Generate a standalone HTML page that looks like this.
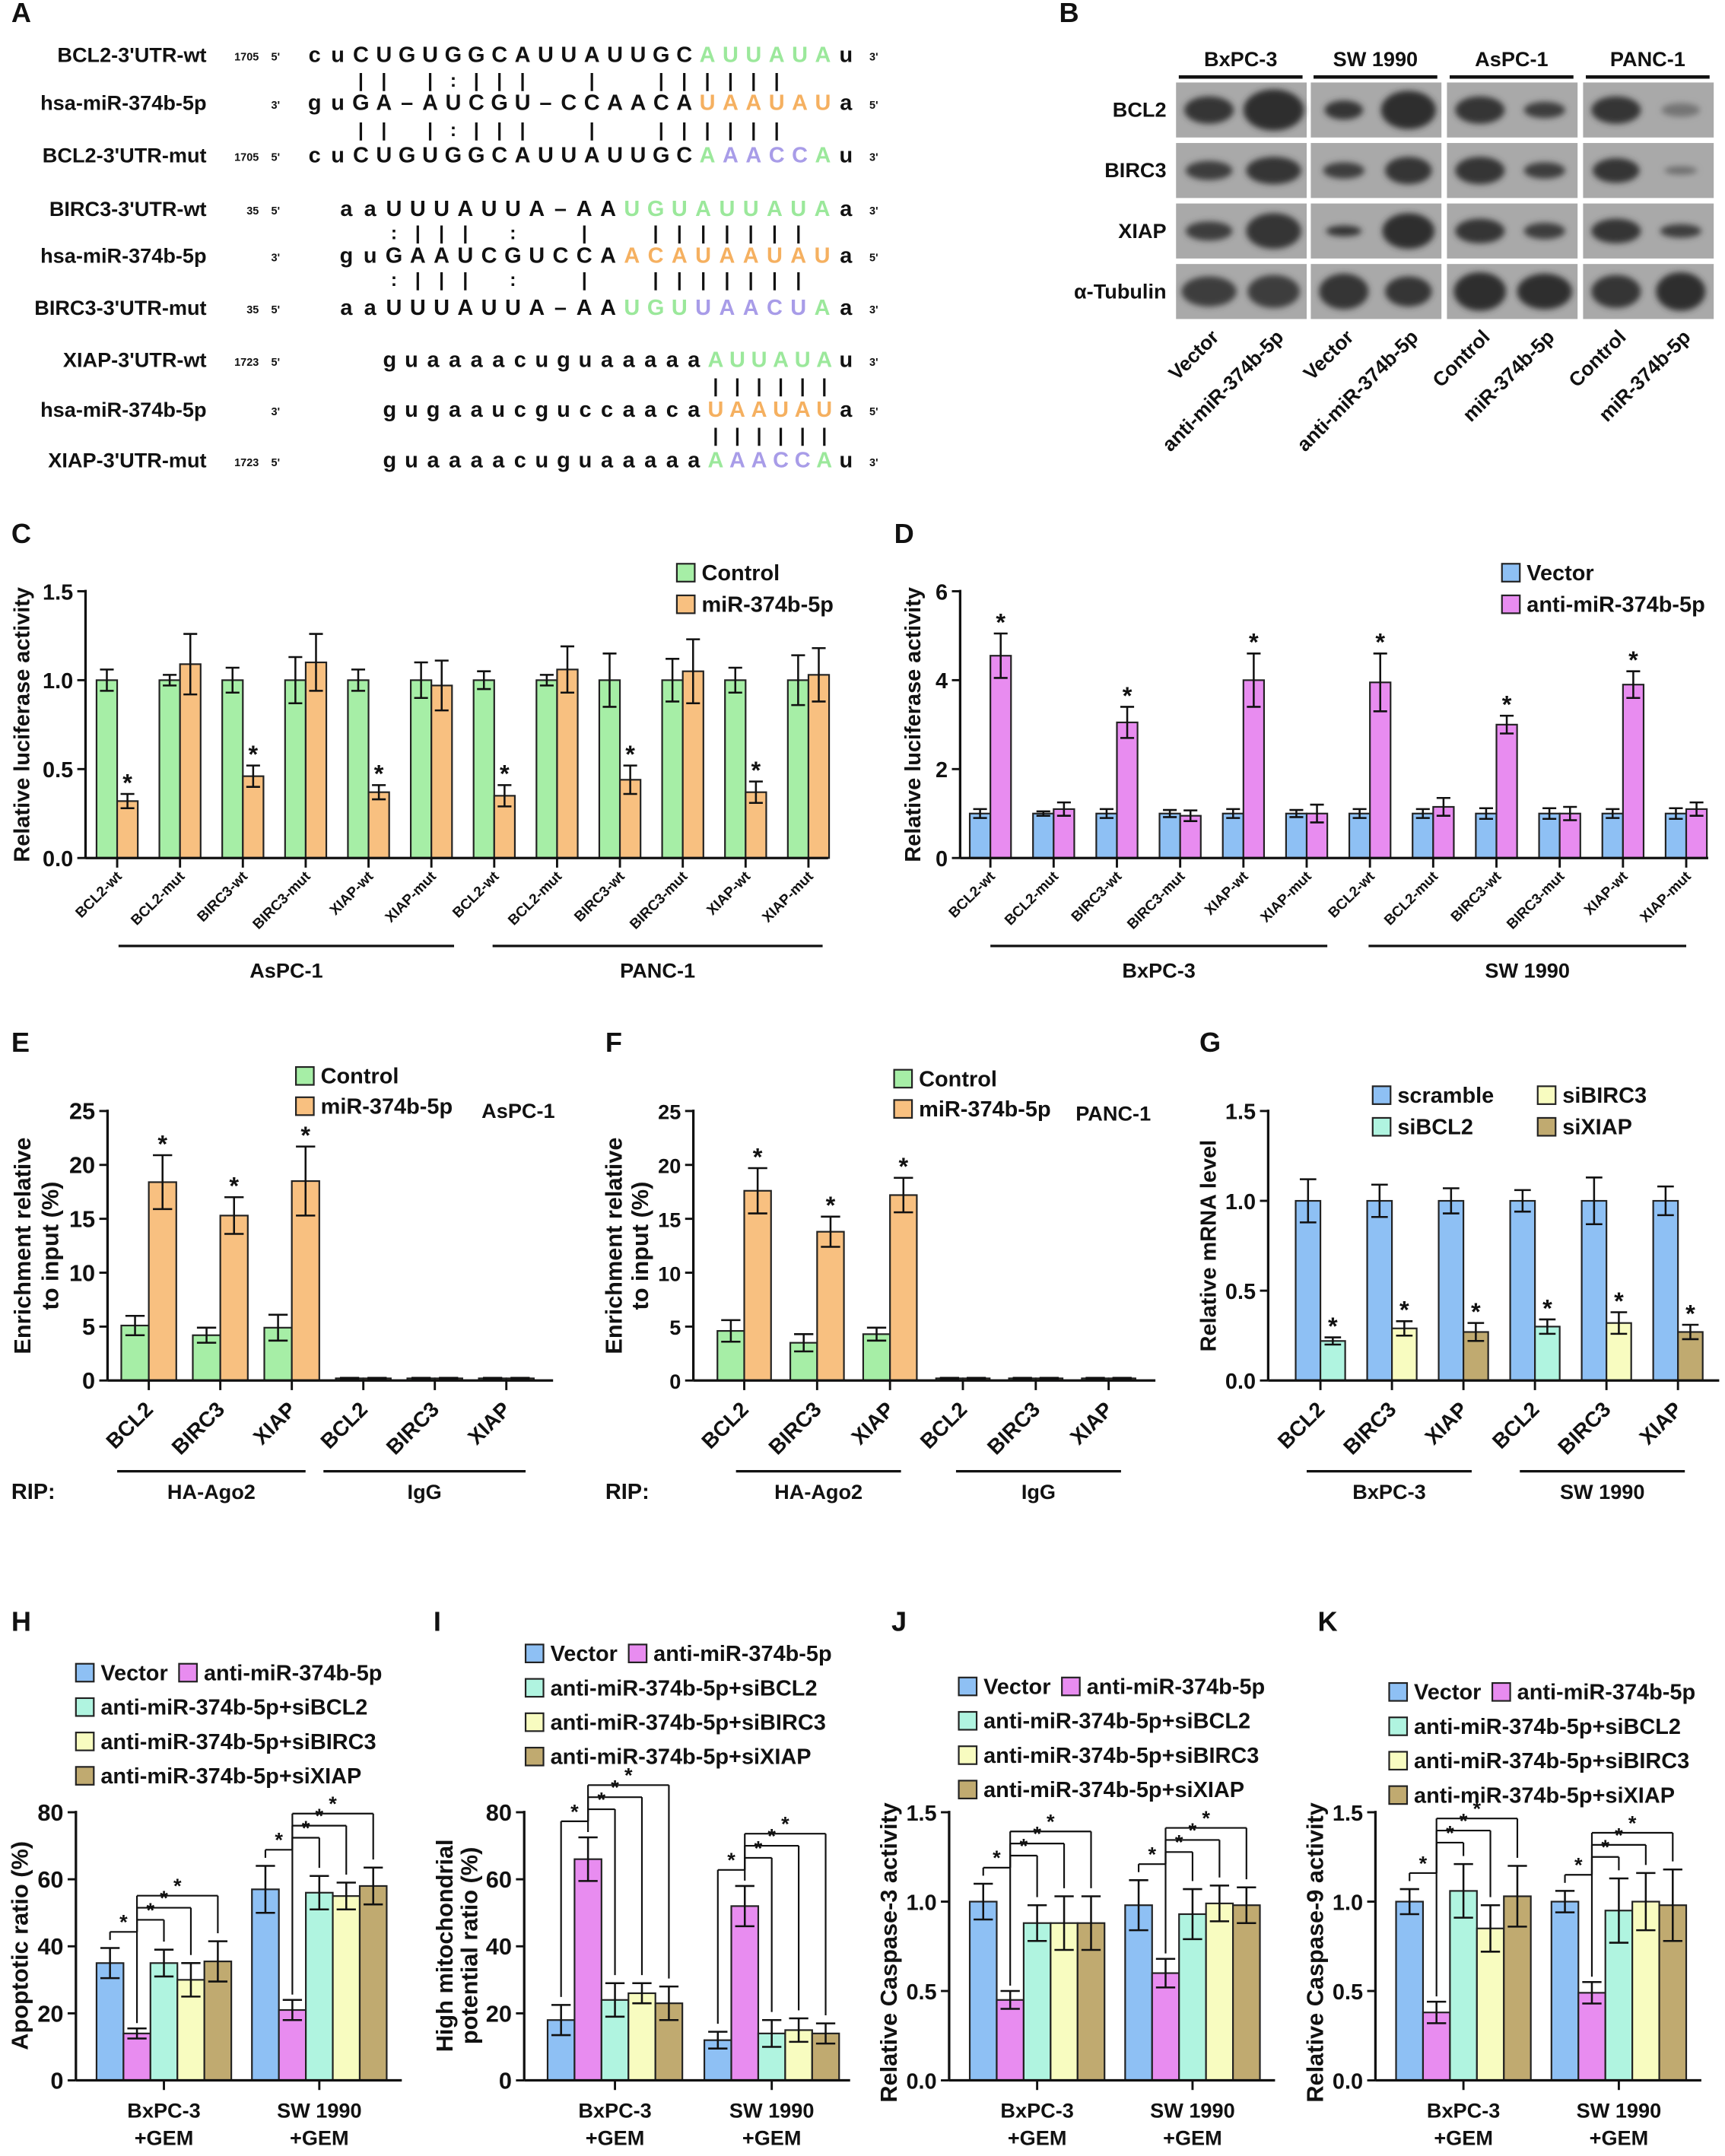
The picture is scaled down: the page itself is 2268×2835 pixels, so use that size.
<!DOCTYPE html>
<html><head><meta charset="utf-8"><style>
html,body{margin:0;padding:0;background:#fff}
svg{display:block}
text{font-family:"Liberation Sans",Arial,sans-serif;font-weight:bold}
</style></head><body>
<svg id="fig" xmlns="http://www.w3.org/2000/svg" width="2268" height="2835" viewBox="0 0 1254 1568">
<defs><filter id="blur" x="-30%" y="-60%" width="160%" height="220%"><feGaussianBlur stdDeviation="2.2"/></filter></defs>
</svg>
<script>
// ---------- data ----------
const cCats=["BCL2-wt","BCL2-mut","BIRC3-wt","BIRC3-mut","XIAP-wt","XIAP-mut","BCL2-wt","BCL2-mut","BIRC3-wt","BIRC3-mut","XIAP-wt","XIAP-mut"];
const cCtrl=[1,1,1,1,1,1,1,1,1,1,1,1];
const cCtrlErr=[0.06,0.03,0.07,0.13,0.06,0.1,0.05,0.03,0.15,0.12,0.07,0.14];
const cMiR=[0.32,1.09,0.46,1.1,0.37,0.97,0.35,1.06,0.44,1.05,0.37,1.03];
const cMiRErr=[0.04,0.17,0.06,0.16,0.04,0.14,0.06,0.13,0.08,0.18,0.06,0.15];
const cTicks=["0.0","0.5","1.0","1.5"];
const dVec=[1,1,1,1,1,1,1,1,1,1,1,1];
const dVecErr=[0.1,0.05,0.1,0.08,0.1,0.08,0.1,0.1,0.12,0.12,0.1,0.12];
const dAnti=[4.55,1.1,3.05,0.95,4.0,1.0,3.95,1.15,3.0,1.0,3.9,1.1];
const dAntiErr=[0.5,0.15,0.35,0.12,0.6,0.2,0.65,0.2,0.2,0.15,0.3,0.15];
const dTicks=["0","2","4","6"];
const eCats=["BCL2","BIRC3","XIAP","BCL2","BIRC3","XIAP"];
const eCtrl=[5.1,4.2,4.9,0.2,0.2,0.2];
const eCtrlErr=[0.9,0.7,1.2,0.05,0.05,0.05];
const eMiR=[18.4,15.3,18.5,0.2,0.2,0.2];
const eMiRErr=[2.5,1.7,3.2,0.05,0.05,0.05];
const fCtrl=[4.6,3.5,4.3,0.2,0.2,0.2];
const fCtrlErr=[1.0,0.8,0.6,0.05,0.05,0.05];
const fMiR=[17.6,13.8,17.2,0.2,0.2,0.2];
const fMiRErr=[2.1,1.4,1.6,0.05,0.05,0.05];
const efTicks=["0","5","10","15","20","25"];
const gScr=[1,1,1,1,1,1];
const gScrErr=[0.12,0.09,0.07,0.06,0.13,0.08];
const gSi=[0.22,0.29,0.27,0.3,0.32,0.27];
const gSiErr=[0.02,0.04,0.05,0.04,0.06,0.04];
const gTicks=["0.0","0.5","1.0","1.5"];
const hkGroups=["BxPC-3","SW 1990"];
const hVals=[[35,57],[14,21],[35,56],[30,55],[35.5,58]];
const hErrs=[[4.5,7],[1.5,3],[4,5],[5,4],[6,5.5]];
const iVals=[[18,12],[66,52],[24,14],[26,15],[23,14]];
const iErrs=[[4.5,2.5],[6.5,6],[5,4],[3,3.5],[5,3]];
const jVals=[[1.0,0.98],[0.45,0.6],[0.88,0.93],[0.88,0.99],[0.88,0.98]];
const jErrs=[[0.1,0.14],[0.05,0.08],[0.1,0.14],[0.15,0.1],[0.15,0.1]];
const kVals=[[1.0,1.0],[0.38,0.49],[1.06,0.95],[0.85,1.0],[1.03,0.98]];
const kErrs=[[0.07,0.06],[0.06,0.06],[0.15,0.18],[0.13,0.16],[0.17,0.2]];
const pctTicks=["0","20","40","60","80"];
const casTicks=["0.0","0.5","1.0","1.5"];

// ---------- helpers ----------
const NS="http://www.w3.org/2000/svg";
const svg=document.getElementById('fig');
function mk(tag,a,parent){const e=document.createElementNS(NS,tag);for(const k in a)e.setAttribute(k,a[k]);(parent||svg).appendChild(e);return e;}
function T(x,y,s,size,anchor,rot,fill){const a={x:x,y:y,'font-size':size||15,'text-anchor':anchor||'start',fill:fill||'#111'};if(rot)a.transform=`rotate(${rot} ${x} ${y})`;const e=mk('text',a);e.textContent=s;return e;}
function L(x1,y1,x2,y2,w){return mk('line',{x1:x1,y1:y1,x2:x2,y2:y2,stroke:'#111','stroke-width':w||1.6});}
function R(x,y,w,h,fill,sw){return mk('rect',{x:x,y:y,width:w,height:h,fill:fill,stroke:'#222','stroke-width':sw||1});}
const BLUE="#8ec0f4",MAG="#e88cf0",MINT="#b0f4e0",YEL="#f8fcc0",OLV="#c0aa70",GRN="#a6eea6",ORG="#f8c080";

[["A",8,16],["B",770,16],["C",8,395],["D",650,395],["E",8,765],["F",440,765],["G",872,765],["H",8,1186],["I",315,1186],["J",648,1186],["K",958,1186]].forEach(p=>{const e=T(p[1],p[2],p[0],20);

});

// ---------- Panel A ----------
const aRows=[
 {y:45,lab:"BCL2-3'UTR-wt",num:"1705",end:"5'",tail:"3'",s:16.8,seg:[["cuCUGUGGCAUUAUUGC","#111"],["AUUAUA","#9be89b"],["u","#111"]]},
 {y:80,lab:"hsa-miR-374b-5p",num:"",end:"3'",tail:"5'",s:16.8,seg:[["guGA–AUCGU–CCAACA","#111"],["UAAUAU","#f5b060"],["a","#111"]]},
 {y:118,lab:"BCL2-3'UTR-mut",num:"1705",end:"5'",tail:"3'",s:16.8,seg:[["cuCUGUGGCAUUAUUGC","#111"],["A","#9be89b"],["AACC","#a89ce8"],["A","#9be89b"],["u","#111"]]},
 {y:157,lab:"BIRC3-3'UTR-wt",num:"35",end:"5'",tail:"3'",s:17.3,seg:[["aaUUUAUUA–AA","#111"],["UGUAUUAUA","#9be89b"],["a","#111"]]},
 {y:191,lab:"hsa-miR-374b-5p",num:"",end:"3'",tail:"5'",s:17.3,seg:[["guGAAUCGUCCA","#111"],["ACAUAAUAU","#f5b060"],["a","#111"]]},
 {y:229,lab:"BIRC3-3'UTR-mut",num:"35",end:"5'",tail:"3'",s:17.3,seg:[["aaUUUAUUA–AA","#111"],["UGU","#9be89b"],["UAACU","#a89ce8"],["A","#9be89b"],["a","#111"]]},
 {y:267,lab:"XIAP-3'UTR-wt",num:"1723",end:"5'",tail:"3'",s:15.8,seg:[["guaaaacuguaaaaa","#111"],["AUUAUA","#9be89b"],["u","#111"]]},
 {y:303,lab:"hsa-miR-374b-5p",num:"",end:"3'",tail:"5'",s:15.8,seg:[["gugaaucguccaaca","#111"],["UAAUAU","#f5b060"],["a","#111"]]},
 {y:340,lab:"XIAP-3'UTR-mut",num:"1723",end:"5'",tail:"3'",s:15.8,seg:[["guaaaacuguaaaaa","#111"],["A","#9be89b"],["AACC","#a89ce8"],["A","#9be89b"],["u","#111"]]}
];
aRows.forEach((r,ri)=>{
 const lab=T(150,r.y,r.lab,15,'end');
 
 
 if(r.num)T(188,r.y-1,r.num,8,'end');
 T(197,r.y-1,r.end,8,'start');
 T(632,r.y-1,r.tail,8,'start');
 const chars=[];r.seg.forEach(sg=>{for(const ch of sg[0])chars.push([ch,sg[1]]);});
 const n=chars.length;
 chars.forEach((c,i)=>{const x=615-(n-1-i)*r.s;T(x,r.y,c[0],16,'middle',0,c[1]);});
});
const pairRows=[
 {y:63,s:16.8,n:24,p:"  || |:|||  |  ||||||  "},{y:99,s:16.8,n:24,p:"  || |:|||  |  ||||||  "},
 {y:174,s:17.3,n:22,p:"  :||| :  |  ||||||| "},{y:208,s:17.3,n:22,p:"  :||| :  |  ||||||| "},
 {y:285,s:15.8,n:22,p:"               ||||||"},{y:321,s:15.8,n:22,p:"               ||||||"}];
pairRows.forEach(pr=>{for(let i=0;i<pr.p.length;i++){const ch=pr.p[i];if(ch===' ')continue;const x=615-(pr.n-1-i)*pr.s;T(x,pr.y,ch,14,'middle');}});

// ---------- Panel B (western blot) ----------
const bCells=["BxPC-3","SW 1990","AsPC-1","PANC-1"];
const bRowsLab=["BCL2","BIRC3","XIAP","α-Tubulin"];
const bLanes=["Vector","anti-miR-374b-5p","Vector","anti-miR-374b-5p","Control","miR-374b-5p","Control","miR-374b-5p"];
const bBands=[
 [[36,20,.9],[44,30,.95],[28,14,.9],[40,28,.95],[36,20,.9],[30,12,.85],[36,20,.9],[28,10,.45]],
 [[34,14,.85],[40,20,.9],[30,12,.85],[34,20,.9],[36,20,.9],[30,12,.85],[34,18,.9],[24,6,.5]],
 [[34,14,.85],[40,26,.9],[26,8,.9],[38,26,.95],[36,18,.9],[30,12,.85],[36,18,.9],[30,10,.85]],
 [[40,22,.85],[38,24,.85],[36,26,.9],[34,22,.9],[38,28,.95],[40,26,.95],[36,24,.9],[36,28,.95]]];
const bRowY=[60,104,148,192],bPanX=[855,953,1052,1151];
bCells.forEach((c,i)=>{const cx=bPanX[i]+47;const t=T(cx,48,c,15,'middle');


L(bPanX[i]+2,56,bPanX[i]+92,56,2.5);});
bRowsLab.forEach((lab,ri)=>{const t=T(848,bRowY[ri]+25,lab,15,'end');


bPanX.forEach((px,pi)=>{const r=mk('rect',{x:px,y:bRowY[ri],width:95,height:40,fill:'#a9a9a9'});


 for(let l=0;l<2;l++){const b=bBands[ri][pi*2+l];const cx=px+24+l*47;const g=Math.round(180-b[2]*140);
  const e=mk('ellipse',{cx:cx,cy:bRowY[ri]+20,rx:b[0]/2,ry:b[1]/2,fill:`rgb(${g},${g},${g})`,filter:'url(#blur)'});
  
  }});});
bLanes.forEach((lab,i)=>{const px=bPanX[Math.floor(i/2)]+24+(i%2)*47+8;const t=T(px,246,lab,14.5,'end',-45);

});

// ---------- generic bar chart ----------
function chart(c){
 const sy=v=>c.y0-v/c.ymax*(c.y0-c.y1);
 const ns=c.series.length;
 const cx=i=>c.first+i*c.gw;
 c.series.forEach((s,si)=>{
  s.vals.forEach((v,gi)=>{
   const x=cx(gi)-ns*c.bw/2+si*c.bw;
   const col=Array.isArray(s.color)?s.color[gi]:s.color;
   const r=R(x,sy(v),c.bw,c.y0-sy(v),col,1.2);
   
   
   const e=s.errs[gi],xm=x+c.bw/2;
   if(e>0.001*c.ymax){L(xm,sy(v+e),xm,sy(v-e),1.4);L(xm-c.cap,sy(v+e),xm+c.cap,sy(v+e),1.4);L(xm-c.cap,sy(v-e),xm+c.cap,sy(v-e),1.4);}
   if(s.stars&&s.stars[gi]){const st=T(xm,sy(v+e)-2,'*',18,'middle');
    
    }
  });
 });
 L(c.x0,c.y1-1,c.x0,c.y0,1.8);L(c.x0,c.y0,c.x1,c.y0,1.8);
 c.ticks.forEach((t,i)=>{const y=sy(parseFloat(t));L(c.x0-6,y,c.x0,y,1.6);const tl=T(c.x0-9,y+6,t,c.tickSize||16,'end');
  
  });
 for(let i=0;i<c.nG;i++)L(cx(i),c.y0,cx(i),c.y0+7,1.6);
 if(c.cats)c.cats.forEach((t,i)=>{const tl=T(cx(i)+4,c.y0+c.catDy,t,c.catSize,'end',-45);
  
  });
 c.ylab.forEach((l,i)=>{const yl=T(l[0],c.ymid,l[1],c.titleSize||16,'middle',-90);
  
  });
 return {sy:sy,cx:cx};
}
function legend(x,y,col,label,sz){const r=R(x,y,13,13,col,1.2);


const t=T(x+18,y+12,label,sz||16);

}
function underline(x1,x2,y,label,ly){L(x1,y,x2,y,1.8);const t=T((x1+x2)/2,ly,label,15,'middle');

}

// ---------- Panel C ----------
chart({name:'luciferase-c',x0:62,x1:602,y0:624,y1:430,ymax:1.5,ticks:cTicks,first:85,gw:45.7,bw:15,cap:5,nG:12,cats:cCats,catSize:10.5,catDy:14,
 series:[{vals:cCtrl,errs:cCtrlErr,color:GRN},{vals:cMiR,errs:cMiRErr,color:ORG,stars:[1,0,1,0,1,0,1,0,1,0,1,0]}],
 ylab:[[21,"Relative luciferase activity"]],ymid:527});
legend(492,410,GRN,"Control");legend(492,433,ORG,"miR-374b-5p");
underline(86,330,688,"AsPC-1",711);underline(358,598,688,"PANC-1",711);

// ---------- Panel D ----------
chart({name:'luciferase-d',x0:698,x1:1242,y0:624,y1:430,ymax:6,ticks:dTicks,first:720,gw:46,bw:15,cap:5,nG:12,cats:cCats,catSize:10.5,catDy:14,
 series:[{vals:dVec,errs:dVecErr,color:BLUE},{vals:dAnti,errs:dAntiErr,color:MAG,stars:[1,0,1,0,1,0,1,0,1,0,1,0]}],
 ylab:[[669,"Relative luciferase activity"]],ymid:527});
legend(1092,410,BLUE,"Vector");legend(1092,433,MAG,"anti-miR-374b-5p");
underline(720,965,688,"BxPC-3",711);underline(995,1226,688,"SW 1990",711);

// ---------- Panel E ----------
chart({name:'rip-e',x0:78,x1:402,y0:1004,y1:808,ymax:25,ticks:efTicks,first:108,gw:52,bw:20,cap:7,nG:6,cats:eCats,catSize:15.5,catDy:22,tickSize:17,titleSize:17,
 series:[{vals:eCtrl,errs:eCtrlErr,color:GRN},{vals:eMiR,errs:eMiRErr,color:ORG,stars:[1,1,1,0,0,0]}],
 ylab:[[22,"Enrichment relative"],[42,"to input (%)"]],ymid:906});
legend(215,776,GRN,"Control");legend(215,798,ORG,"miR-374b-5p");T(350,813,"AsPC-1",15);
T(8,1090,"RIP:",16);underline(85,222,1070,"HA-Ago2",1090);underline(235,382,1070,"IgG",1090);

// ---------- Panel F ----------
chart({name:'rip-f',x0:504,x1:840,y0:1004,y1:808,ymax:25,ticks:efTicks,first:541,gw:53,bw:19.5,cap:7,nG:6,cats:eCats,catSize:15.5,catDy:22,tickSize:15,titleSize:17,
 series:[{vals:fCtrl,errs:fCtrlErr,color:GRN},{vals:fMiR,errs:fMiRErr,color:ORG,stars:[1,1,1,0,0,0]}],
 ylab:[[452,"Enrichment relative"],[471,"to input (%)"]],ymid:906});
legend(650,778,GRN,"Control");legend(650,800,ORG,"miR-374b-5p");T(782,815,"PANC-1",15);
T(440,1090,"RIP:",16);underline(535,655,1070,"HA-Ago2",1090);underline(695,815,1070,"IgG",1090);

// ---------- Panel G ----------
chart({name:'mrna-g',x0:922,x1:1250,y0:1004,y1:808,ymax:1.5,ticks:gTicks,first:960,gw:52,bw:18,cap:6,nG:6,cats:eCats,catSize:15.5,catDy:22,tickSize:16,titleSize:16,
 series:[{vals:gScr,errs:gScrErr,color:BLUE},{vals:gSi,errs:gSiErr,color:[MINT,YEL,OLV,MINT,YEL,OLV],stars:[1,1,1,1,1,1]}],
 ylab:[[884,"Relative mRNA level"]],ymid:906});
legend(998,790,BLUE,"scramble");legend(1118,790,YEL,"siBIRC3");legend(998,813,MINT,"siBCL2");legend(1118,813,OLV,"siXIAP");
underline(950,1070,1070,"BxPC-3",1090);underline(1105,1225,1070,"SW 1990",1090);

// ---------- Panels H-K ----------
const fiveCols=[BLUE,MAG,MINT,YEL,OLV];
const fiveLabs=["anti-miR-374b-5p+siBCL2","anti-miR-374b-5p+siBIRC3","anti-miR-374b-5p+siXIAP"];
function five(name,x0,off,gw,vals,errs,ymax,ticks,ylab,ymid,lx,ly,ts){
 const bw=19.6;
 const series=vals.map((v,i)=>({vals:v,errs:errs[i],color:fiveCols[i]}));
 const c=chart({name:name,x0:x0,x1:x0+237,y0:1513,y1:1318,ymax:ymax,ticks:ticks,first:x0+off+2.5*bw,gw:gw,bw:bw,cap:7,nG:2,series:series,ylab:ylab,ymid:ymid,tickSize:ts,titleSize:17});
 hkGroups.forEach((g,gi)=>{const t=T(c.cx(gi),1540,g,15,'middle');
  
  
  T(c.cx(gi),1560,"+GEM",15,'middle');
  const xc=si=>c.cx(gi)-2.5*bw+si*bw+bw/2;
  const top=si=>vals[si][gi]+errs[si][gi];
  const base=Math.max(top(0),top(1))+0.06*ymax;
  L(xc(0),c.sy(top(0)+0.03*ymax),xc(0),c.sy(base),1.2);L(xc(0),c.sy(base),xc(1),c.sy(base),1.2);
  L(xc(1),c.sy(base),xc(1),c.sy(top(1)+0.02*ymax),1.2);
  T((xc(0)+xc(1))/2,c.sy(base)-2,'*',15,'middle');
  let prev=base;
  for(let k=1;k<=3;k++){const lv=Math.max(prev+0.045*ymax,top(k+1)+0.08*ymax);prev=lv;
   L(xc(1),c.sy(base),xc(1),c.sy(lv),1.2);L(xc(1),c.sy(lv),xc(k+1),c.sy(lv),1.2);L(xc(k+1),c.sy(lv),xc(k+1),c.sy(top(k+1)+0.03*ymax),1.2);
   const st=T((xc(1)+xc(k+1))/2,c.sy(lv)-2,'*',15,'middle');
   
   }
 });
 legend(lx,ly,BLUE,"Vector");legend(lx+75,ly,MAG,"anti-miR-374b-5p");
 fiveLabs.forEach((l,i)=>legend(lx,ly+25*(i+1),fiveCols[i+2],l));
}
five('apoptosis-h',55,15,113,hVals,hErrs,80,pctTicks,[[20,"Apoptotic ratio (%)"]],1415,55,1210,17);
five('mito-i',381,17,114,iVals,iErrs,80,pctTicks,[[329,"High mitochondrial"],[347,"potential ratio (%)"]],1415,382,1196,17);
five('caspase3-j',690,15,113,jVals,jErrs,1.5,casTicks,[[652,"Relative Caspase-3 activity"]],1420,697,1220,16);
five('caspase9-k',1000,15,113,kVals,kErrs,1.5,casTicks,[[962,"Relative Caspase-9 activity"]],1420,1010,1224,16);
</script>
</body></html>
